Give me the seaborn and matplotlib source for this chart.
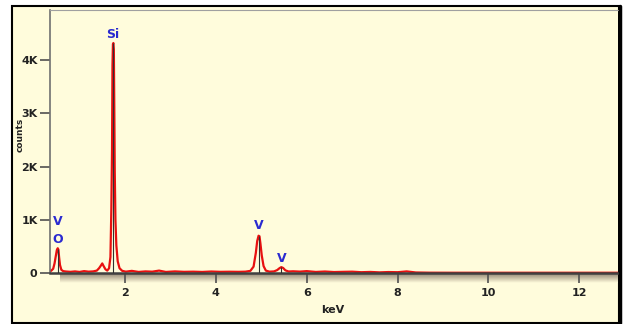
import numpy as np
import matplotlib
matplotlib.use("Agg")
import matplotlib.pyplot as plt
import seaborn as sns
import pandas as pd
from matplotlib.patches import Rectangle
from matplotlib.lines import Line2D
from matplotlib.colors import LinearSegmentedColormap

# ---- data ----
energy = [0.35, 0.38, 0.42, 0.45, 0.48, 0.50, 0.52, 0.535, 0.55, 0.57,
          0.60, 0.64, 0.70, 0.80, 0.90, 1.00, 1.10, 1.20, 1.30, 1.38,
          1.43, 1.47, 1.50, 1.53, 1.57, 1.61, 1.65, 1.68, 1.70, 1.715,
          1.725, 1.735, 1.745, 1.755, 1.765, 1.775, 1.79, 1.81, 1.84, 1.88,
          1.94, 2.02, 2.15, 2.30, 2.45, 2.60, 2.75, 2.90, 3.10, 3.30,
          3.50, 3.70, 3.90, 4.10, 4.30, 4.50, 4.65, 4.76, 4.83, 4.88,
          4.91, 4.94, 4.96, 4.98, 5.01, 5.05, 5.10, 5.18, 5.28, 5.35,
          5.40, 5.44, 5.48, 5.53, 5.60, 5.70, 5.85, 6.00, 6.20, 6.40,
          6.60, 6.80, 7.00, 7.20, 7.40, 7.60, 7.80, 8.00, 8.20, 8.40,
          8.70, 9.20, 10.00, 11.00, 12.00, 12.85]
counts = [30, 45, 80, 180, 330, 430, 465, 440, 300, 150,
          60, 35, 28, 22, 30, 20, 35, 25, 30, 45,
          90, 140, 180, 130, 70, 45, 90, 300, 1200, 2300,
          3900, 4300, 4320, 4200, 3100, 1900, 1000, 520, 220, 90,
          40, 25, 40, 20, 30, 25, 45, 20, 30, 22,
          25, 20, 28, 22, 24, 22, 25, 40, 120, 380,
          600, 700, 690, 560, 330, 130, 45, 25, 30, 55,
          90, 110, 95, 50, 28, 32, 26, 35, 20, 28,
          18, 22, 25, 15, 20, 12, 18, 15, 30, 10,
          6, 5, 5, 5, 5, 5]

marker_energy = [0.525, 1.745, 4.95, 5.43]
marker_height = [460, 4320, 700, 110]

peak_labels = ["V", "O", "Si", "V", "V"]
peak_label_x = [0.53, 0.53, 1.74, 4.95, 5.44]
peak_label_y = [960, 620, 4480, 890, 280]

x_ticks = [2, 4, 6, 8, 10, 12]
y_ticks = [0, 1000, 2000, 3000, 4000]
y_tick_labels = ["0", "1K", "2K", "3K", "4K"]

# ---- style ----
sns.set_style("ticks")
plt.rcParams["font.family"] = ["DejaVu Sans"]
cream = "#fffcdc"
W, H = 626, 324

fig = plt.figure(figsize=(W / 100, H / 100), dpi=100)
fig.patch.set_facecolor("white")

frame = Rectangle((12 / W, 1 / H), (619 - 12) / W, 317 / H,
                  transform=fig.transFigure, facecolor=cream,
                  edgecolor="black", lw=1.5, zorder=-5)
fig.patches.append(frame)
fig.lines.append(Line2D([620 / W, 620 / W], [1 / H, 318 / H],
                        transform=fig.transFigure, color="black", lw=2.5, zorder=10))

# shadow under x axis
sax = fig.add_axes([60 / W, 1 - 283 / H, 558 / W, 10 / H])
cmap = LinearSegmentedColormap.from_list("sh", ["#8e8272", "#c9bfa6", cream])
sax.imshow(np.linspace(0, 1, 30).reshape(-1, 1), aspect="auto", cmap=cmap)
sax.axis("off")
sax.set_zorder(0)

ax = fig.add_axes([50 / W, 1 - 273 / H, 568 / W, 263 / H])
ax.set_zorder(1)
ax.set_facecolor(cream)

df = pd.DataFrame({"keV": energy, "counts": counts})
sns.lineplot(data=df, x="keV", y="counts", ax=ax, color="#e81010", lw=1.6)
ax.vlines(marker_energy, 0, marker_height, color="#303030", lw=0.8, zorder=3)

for t, xx, yy in zip(peak_labels, peak_label_x, peak_label_y):
    ax.text(xx, yy, t, color="#2a2ad0", fontsize=9, fontweight="bold",
            ha="center", va="center")

ax.set_xlim(0.35, 12.85)
ax.set_ylim(0, 4940)
ax.set_xticks(x_ticks)
ax.set_xticklabels([str(v) for v in x_ticks], fontweight="bold", fontsize=8)
ax.set_yticks(y_ticks)
ax.set_yticklabels(y_tick_labels, fontweight="bold", fontsize=8)
ax.tick_params(axis="x", direction="out", length=7, width=1.2, color="#505050",
               pad=4, labelcolor="#222222")
ax.tick_params(axis="y", direction="out", length=7, width=1.2, color="#505050",
               pad=2, labelcolor="#222222")
ax.set_xlabel("")
ax.set_ylabel("")

ax.spines["left"].set_color("#707070")
ax.spines["left"].set_linewidth(1.2)
ax.spines["top"].set_color("#a0a0a0")
ax.spines["top"].set_linewidth(0.8)
ax.spines["right"].set_visible(False)
ax.spines["bottom"].set_color("#404040")
ax.spines["bottom"].set_linewidth(1.8)

fig.text(20 / W, 1 - 135 / H, "counts", rotation=90, fontsize=6.5,
         fontweight="bold", ha="center", va="center", color="#222222")
fig.text(333 / W, 1 - 310 / H, "keV", fontsize=8, fontweight="bold",
         ha="center", va="center", color="#222222")

fig.savefig("out.png", dpi=100, facecolor="white")
